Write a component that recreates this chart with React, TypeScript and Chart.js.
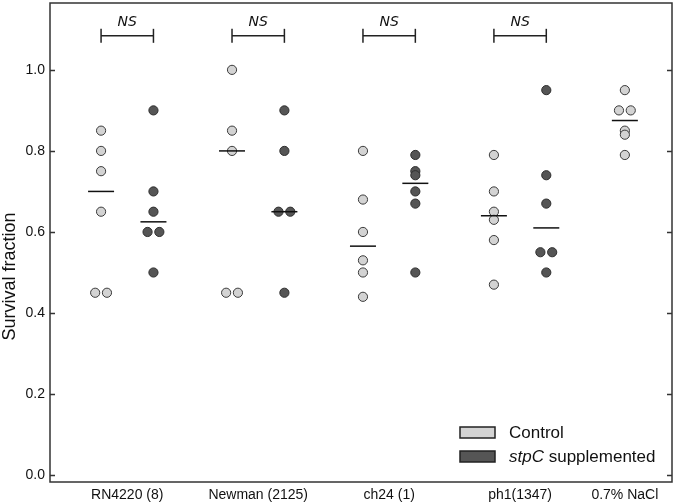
import { useEffect, useRef } from 'react';
import { Chart, registerables } from 'chart.js';

Chart.register(...registerables);

// strain groups along the x axis
const groups = ['RN4220 (8)', 'Newman (2125)', 'ch24 (1)', 'ph1(1347)', '0.7% NaCl'];
const groupPos = [1, 2, 3, 4, 4.8];

// survival fraction per replicate
const controlValues = [
  [0.85, 0.8, 0.75, 0.65, 0.45, 0.45],
  [1.0, 0.85, 0.8, 0.45, 0.45],
  [0.8, 0.68, 0.6, 0.53, 0.5, 0.44],
  [0.79, 0.7, 0.65, 0.63, 0.58, 0.47],
  [0.95, 0.9, 0.9, 0.85, 0.84, 0.79]
];
const stpcValues = [
  [0.9, 0.7, 0.65, 0.6, 0.6, 0.5],
  [0.9, 0.8, 0.65, 0.65, 0.45],
  [0.79, 0.75, 0.74, 0.7, 0.67, 0.5],
  [0.95, 0.74, 0.67, 0.55, 0.55, 0.5],
  []
];

const yTicks = [0, 0.2, 0.4, 0.6, 0.8, 1.0];
const nsGroups = [0, 1, 2, 3];
const nsLabel = 'NS';
const bracketY = 1.084;
const nsTextY = 1.117;

const legendItems = [
  { italic: '', plain: 'Control', fill: '#d3d3d3' },
  { italic: 'stpC', plain: ' supplemented', fill: '#555555' }
];

const FONT = '"Liberation Sans", Arial, sans-serif';
const pairOffset = 0.2;
const dodge = 0.045;

const median = (a: number[]) => {
  const s = [...a].sort((p, q) => p - q);
  const m = s.length / 2;
  return s.length % 2 ? s[Math.floor(m)] : (s[m - 1] + s[m]) / 2;
};

// spread exact duplicates side by side
const toPoints = (values: number[], center: number) =>
  values.map((v, i) => {
    const same = values.filter(w => w === v).length;
    const rank = values.slice(0, i).filter(w => w === v).length;
    const dx = same > 1 ? (rank - (same - 1) / 2) * 2 * dodge : 0;
    return { x: center + dx, y: v };
  });

const controlX = (i: number) => groupPos[i] - (stpcValues[i].length ? pairOffset : 0);
const stpcX = (i: number) => groupPos[i] + pairOffset;

const framePlugin = {
  id: 'frame',
  afterDraw(chart: Chart) {
    const { ctx, chartArea, scales } = chart;
    const { left, top, right, bottom } = chartArea;
    const x = scales.x;
    const y = scales.y;
    ctx.save();

    ctx.strokeStyle = '#333';
    ctx.lineWidth = 1.5;
    ctx.strokeRect(left, top, right - left, bottom - top);

    // inward ticks on both sides
    ctx.beginPath();
    yTicks.forEach(t => {
      const py = Math.round(y.getPixelForValue(t)) + 0.5;
      ctx.moveTo(left, py);
      ctx.lineTo(left + 5, py);
      ctx.moveTo(right - 5, py);
      ctx.lineTo(right, py);
    });
    ctx.stroke();

    // NS labels
    ctx.fillStyle = '#111';
    ctx.font = 'italic 14px "DejaVu Sans", sans-serif';
    ctx.textAlign = 'center';
    ctx.textBaseline = 'middle';
    nsGroups.forEach(g => {
      ctx.fillText(nsLabel, x.getPixelForValue(groupPos[g]), y.getPixelForValue(nsTextY));
    });

    // y title
    ctx.save();
    ctx.translate(10, y.getPixelForValue(0.49));
    ctx.rotate(-Math.PI / 2);
    ctx.font = `18px ${FONT}`;
    ctx.fillStyle = '#111';
    ctx.fillText('Survival fraction', 0, 0);
    ctx.restore();

    // legend
    const boxX = right - 212;
    ctx.textAlign = 'left';
    legendItems.forEach((item, i) => {
      const boxY = bottom - 55 + i * 24;
      ctx.fillStyle = item.fill;
      ctx.fillRect(boxX, boxY, 35, 11);
      ctx.strokeStyle = '#222';
      ctx.lineWidth = 1.5;
      ctx.strokeRect(boxX, boxY, 35, 11);
      ctx.fillStyle = '#111';
      let tx = boxX + 49;
      const ty = boxY + 6.5;
      if (item.italic) {
        ctx.font = `italic 17px ${FONT}`;
        ctx.fillText(item.italic, tx, ty);
        tx += ctx.measureText(item.italic).width;
      }
      ctx.font = `17px ${FONT}`;
      ctx.fillText(item.plain, tx, ty);
    });

    ctx.restore();
  }
};

const App = () => {
  const chartRef = useRef<HTMLCanvasElement>(null);
  const chartInstance = useRef<Chart | null>(null);

  useEffect(() => {
    if (!chartRef.current) return;
    const ctx = chartRef.current.getContext('2d');
    if (!ctx) return;

    if (chartInstance.current) {
      chartInstance.current.destroy();
    }

    const controlPoints = controlValues.flatMap((vals, i) => toPoints(vals, controlX(i)));
    const stpcPoints = stpcValues.flatMap((vals, i) => toPoints(vals, stpcX(i)));

    const medians = [
      ...controlValues.map((vals, i) => ({ x: controlX(i), y: median(vals) })),
      ...stpcValues.filter(v => v.length).map((vals, i) => ({ x: stpcX(i), y: median(vals) }))
    ];

    const brackets = nsGroups.map(g => ({
      type: 'line' as const,
      data: [
        { x: controlX(g), y: bracketY },
        { x: stpcX(g), y: bracketY }
      ],
      showLine: true,
      borderColor: '#222',
      borderWidth: 1.5,
      pointStyle: 'line' as const,
      rotation: 90,
      pointRadius: 7,
      pointBorderWidth: 1.5,
      pointBorderColor: '#222',
      order: 0
    }));

    chartInstance.current = new Chart(ctx, {
      type: 'scatter',
      data: {
        datasets: [
          {
            label: 'median',
            data: medians,
            pointStyle: 'line',
            pointRadius: 13,
            borderWidth: 1.5,
            borderColor: '#111',
            order: 0
          },
          ...brackets,
          {
            label: 'stpC supplemented',
            data: stpcPoints,
            backgroundColor: '#555555',
            borderColor: '#2e2e2e',
            borderWidth: 1,
            pointRadius: 4.6,
            order: 1
          },
          {
            label: 'Control',
            data: controlPoints,
            backgroundColor: '#d3d3d3',
            borderColor: '#3a3a3a',
            borderWidth: 1,
            pointRadius: 4.6,
            order: 2
          }
        ]
      },
      options: {
        animation: false,
        responsive: true,
        maintainAspectRatio: false,
        layout: { autoPadding: false, padding: { top: 3, right: 8, left: 0, bottom: 0 } },
        plugins: {
          legend: { display: false },
          tooltip: { enabled: false }
        },
        scales: {
          x: {
            type: 'linear',
            min: 0.41,
            max: 5.16,
            afterBuildTicks: s => {
              s.ticks = groupPos.map(v => ({ value: v }));
            },
            afterFit: s => {
              s.height = 22;
              s.paddingLeft = 0;
              s.paddingRight = 0;
            },
            ticks: {
              callback: (_v, i) => groups[i],
              autoSkip: false,
              maxRotation: 0,
              padding: 5,
              color: '#111',
              font: { family: FONT, size: 14 }
            },
            grid: { display: false, drawTicks: false },
            border: { display: false }
          },
          y: {
            type: 'linear',
            min: -0.017,
            max: 1.165,
            afterBuildTicks: s => {
              s.ticks = yTicks.map(v => ({ value: v }));
            },
            afterFit: s => {
              s.width = 50;
              s.paddingTop = 0;
              s.paddingBottom = 0;
            },
            ticks: {
              callback: v => Number(v).toFixed(1),
              padding: 5,
              color: '#111',
              font: { family: FONT, size: 14 }
            },
            grid: { display: false, drawTicks: false },
            border: { display: false }
          }
        }
      },
      plugins: [framePlugin]
    });

    return () => {
      if (chartInstance.current) {
        chartInstance.current.destroy();
        chartInstance.current = null;
      }
    };
  }, []);

  return (
    <div style={{ position: 'absolute', left: 0, top: 0, width: 680, height: 504, background: '#fff' }}>
      <canvas ref={chartRef} />
    </div>
  );
};

export default App;
